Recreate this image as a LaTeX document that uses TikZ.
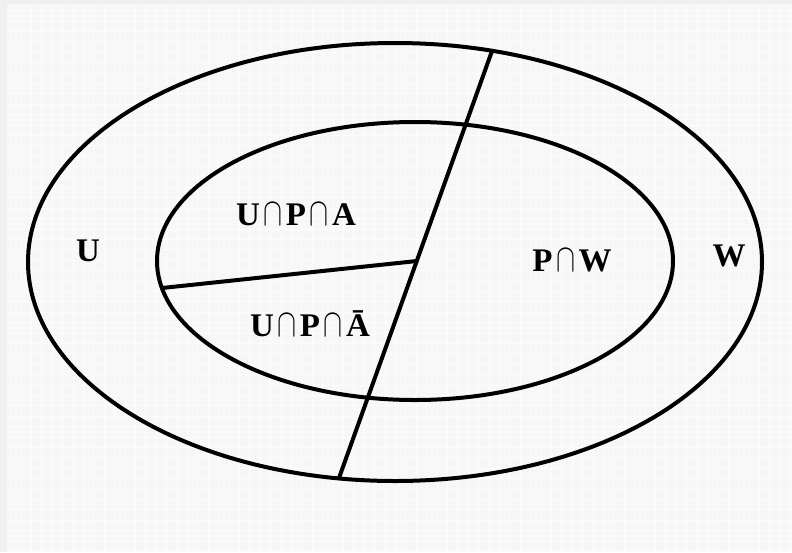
\documentclass[tikz,border=0pt]{standalone}
\usepackage{fontspec}
\usepackage{graphicx}
\setmainfont{Liberation Serif}
\newcommand{\icap}{\hspace{3.5pt}\resizebox{19pt}{22pt}{$\cap$}\hspace{3.5pt}}
\begin{document}
\begin{tikzpicture}[x=1pt,y=-1pt,
  curve/.style={line width=4pt,black},
  lbl/.style={font=\fontsize{33}{36}\selectfont\bfseries,inner sep=0pt,anchor=center}]
\useasboundingbox (0,0) rectangle (792,552);
\fill[black!6] (0,0) rectangle (792,552);
\fill[black!3] (7,4) rectangle (792,552);
\draw[white,line width=0.5pt,opacity=0.7] (7,4) grid[step=10.4pt] (792,552);
% ellipses
\draw[curve] (395,262) ellipse[x radius=367,y radius=219];
\draw[curve] (415,261) ellipse[x radius=258,y radius=139];
% dividing lines
\coordinate (top) at (492,51);
\coordinate (bot) at (339,478);
\coordinate (mid) at (417,261);
\coordinate (left) at (162,288);
\draw[curve] (top) -- (bot);
\draw[curve] (left) -- (mid);
% labels
\node[lbl] (u) at (88,251) {U};
\node[lbl] (w) at (729,256) {W};
\node[lbl] (upa) at (296,215) {U\icap P\icap A};
\node[lbl] (upna) at (310,324) {U\icap P\icap Ā};
\node[lbl] (pw) at (572,261) {P\icap W};
\end{tikzpicture}
\end{document}
